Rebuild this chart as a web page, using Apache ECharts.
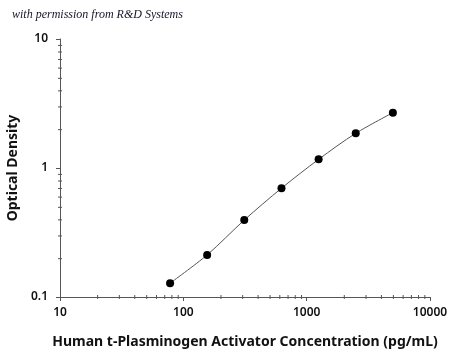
<!DOCTYPE html>
<html>
<head>
<meta charset="utf-8">
<script src="https://cdn.jsdelivr.net/npm/echarts@6/dist/echarts.min.js"></script>
<style>
  html, body { margin: 0; padding: 0; background: #fff; }
  #chart { width: 450px; height: 354px; }
</style>
</head>
<body>
<div id="chart"></div>
<script>
// standard curve values
var concentration = [78.1, 156, 312, 625, 1250, 2500, 5000];
var opticalDensity = [0.128, 0.212, 0.395, 0.697, 1.167, 1.858, 2.683];

// log axis minor ticks
var xMinorTicks = [20, 30, 40, 50, 60, 70, 80, 90, 200, 300, 400, 500, 600, 700, 800, 900, 2000, 3000, 4000, 5000, 6000, 7000, 8000, 9000];
var yMinorTicks = [0.2, 0.3, 0.4, 0.5, 0.6, 0.7, 0.8, 0.9, 2, 3, 4, 5, 6, 7, 8, 9];

var axisColor = '#555';
var labelFont = 'Noto Sans';

var points = concentration.map(function (c, i) {
    return [c, opticalDensity[i]];
});

//小刻度，用自定义系列画在坐标轴上
function minorTickSeries(values, horizontal) {
    return {
        type: 'custom',
        silent: true,
        clip: false,
        z: 5,
        data: values.map(function (v) {
            return horizontal ? [v, 0.1] : [10, v];
        }),
        renderItem: function (params, api) {
            var p = api.coord([api.value(0), api.value(1)]);
            var shape = horizontal
                ? {x1: p[0] + 0.5, y1: p[1] - 2, x2: p[0] + 0.5, y2: p[1] + 2}
                : {x1: p[0] - 2, y1: p[1] + 0.5, x2: p[0] + 2, y2: p[1] + 0.5};
            return {
                type: 'line',
                shape: shape,
                style: {stroke: axisColor, lineWidth: 1}
            };
        }
    };
}

function plainNumber(v) {
    return String(v);
}

var chart = echarts.init(document.getElementById('chart'));
chart.setOption({
    animation: false,
    grid: {left: 60, right: 20, top: 39, bottom: 57, containLabel: false, outerBoundsMode: 'none'},
    graphic: [{
        type: 'text',
        left: 12,
        top: 9,
        style: {
            text: 'with permission from R&D Systems',
            font: 'italic 12px "Liberation Serif"',
            fill: '#141428'
        }
    }],
    xAxis: {
        type: 'log',
        logBase: 10,
        min: 10,
        max: 10000,
        name: 'Human t-Plasminogen Activator Concentration (pg/mL)',
        nameLocation: 'middle',
        nameGap: 38,
        nameTextStyle: {fontFamily: labelFont, fontWeight: 'bold', fontSize: 14, color: '#111'},
        axisLine: {lineStyle: {color: axisColor}},
        axisTick: {inside: false, length: 4, lineStyle: {color: axisColor}},
        axisLabel: {fontFamily: labelFont, fontWeight: 600, fontSize: 12, color: '#111', margin: 10, formatter: plainNumber},
        splitLine: {show: false}
    },
    yAxis: {
        type: 'log',
        logBase: 10,
        min: 0.1,
        max: 10,
        name: 'Optical Density',
        nameLocation: 'middle',
        nameGap: 40,
        nameTextStyle: {fontFamily: labelFont, fontWeight: 'bold', fontSize: 14, color: '#111'},
        axisLine: {show: true, lineStyle: {color: axisColor}},
        axisTick: {show: true, inside: false, length: 4, lineStyle: {color: axisColor}},
        axisLabel: {fontFamily: labelFont, fontWeight: 600, fontSize: 12, color: '#111', margin: 12, formatter: plainNumber},
        splitLine: {show: false}
    },
    series: [
        minorTickSeries(xMinorTicks, true),
        minorTickSeries(yMinorTicks, false),
        {
            type: 'line',
            data: points,
            smooth: 0.3,
            symbol: 'circle',
            symbolSize: 8,
            lineStyle: {color: '#555', width: 1},
            itemStyle: {color: '#000'}
        }
    ]
});
</script>
</body>
</html>
